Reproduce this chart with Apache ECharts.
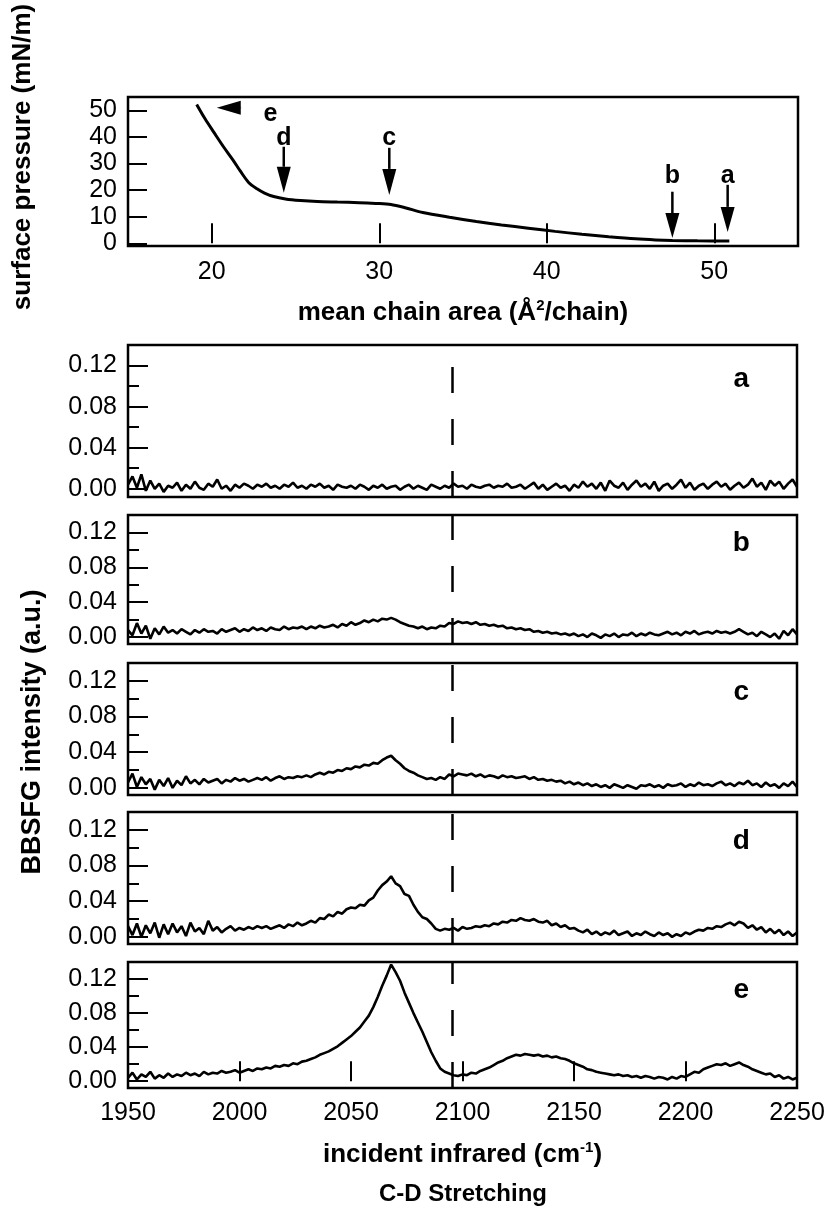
<!DOCTYPE html>
<html>
<head>
<meta charset="utf-8">
<script src="https://cdn.jsdelivr.net/npm/echarts@6.0.0/dist/echarts.min.js"></script>
<style>
  html, body { margin: 0; padding: 0; background: #fff; }
  #main { width: 829px; height: 1207px; }
</style>
</head>
<body>
<div id="main"></div>
<script>
// ---- isotherm (top panel) ----
var areaPts = [19.1, 19.6, 20.15, 20.7, 21.26, 21.7, 22.2, 22.7, 23.15, 23.7, 24.4, 25.3, 26.3, 27.5, 28.8,
  29.8, 30.7, 31.6, 32.6, 34.2, 35.8, 37.3, 38.9, 40.5, 42.1, 43.7, 45.3, 46.5, 47.5, 49.0, 50.9];
var pressurePts = [52.2, 46.8, 41.5, 36.3, 31.4, 27.2, 22.9, 20.5, 18.9, 17.6, 16.7, 16.1, 15.7, 15.5, 15.3,
  15.0, 14.6, 13.3, 11.6, 9.8, 8.2, 6.9, 5.7, 4.5, 3.4, 2.5, 1.7, 1.3, 1.1, 0.95, 0.9];
var areaTicks = [20, 30, 40, 50];
var pressureTicks = [0, 10, 20, 30, 40, 50];

// arrows: tail x, tail y, head x, head y, head length
var isoArrows = [
  [21.75, 51, 20.3, 51, 24],
  [24.3, 36.3, 24.3, 19.0, 26],
  [30.6, 35.9, 30.6, 18.2, 26],
  [47.5, 19.4, 47.5, 2.0, 25],
  [50.8, 22.0, 50.8, 4.3, 25]
];
var isoLetters = [[23.5, 48.4, 'e'], [24.3, 39.7, 'd'], [30.6, 39.7, 'c'], [47.5, 25.1, 'b'], [50.8, 25.1, 'a']];

// ---- BBSFG spectra, 1950..2250 cm-1 every 2 cm-1 ----
var waveStart = 1950, waveStep = 2;
var waveTicks = [2000, 2050, 2100, 2150, 2200];
var intensityTicks = [0, 0.04, 0.08, 0.12];
var intensityMinor = [0.02, 0.06, 0.10];
var dashedAt = 2095.5;

var specA = [
  0.004, 0.012, 0.001, 0.014, -0.002, 0.008, 0.000, 0.005, -0.003, 0.003,
  0.001, 0.006, -0.002, 0.004, 0.000, 0.007, 0.001, -0.001, 0.005, 0.002,
  0.009, 0.000, 0.003, -0.002, 0.004, 0.001, 0.005, 0.003, 0.000, 0.004,
  0.002, 0.005, 0.001, 0.003, 0.000, 0.004, 0.002, 0.006, 0.001, 0.003,
  0.000, 0.004, 0.002, 0.005, 0.001, 0.003, -0.001, 0.004, 0.002, 0.001,
  0.003, 0.000, 0.004, 0.002, -0.001, 0.003, 0.001, 0.004, 0.000, 0.002,
  0.003, -0.001, 0.002, 0.004, 0.000, 0.003, 0.001, -0.001, 0.004, 0.002,
  0.000, 0.003, 0.001, 0.005, 0.002, 0.003, 0.000, 0.004, 0.002, 0.001,
  0.003, 0.004, 0.001, 0.003, 0.002, 0.005, 0.001, 0.002, 0.004, 0.000,
  0.003, 0.006, 0.000, 0.004, -0.001, 0.002, 0.005, 0.001, 0.003, -0.002,
  0.004, 0.001, 0.007, 0.002, 0.005, 0.000, 0.006, -0.002, 0.008, 0.003,
  0.001, 0.006, -0.001, 0.004, 0.008, 0.002, 0.005, 0.000, 0.007, -0.002,
  0.003, 0.005, 0.000, 0.004, 0.009, 0.001, 0.006, -0.001, 0.003, 0.005,
  0.000, 0.004, 0.007, 0.002, 0.005, -0.001, 0.003, 0.006, 0.001, 0.004,
  0.010, 0.002, 0.006, -0.001, 0.008, 0.003, 0.007, 0.000, 0.005, 0.009, 0.002
];
var specB = [
  0.008, 0.002, 0.016, 0.004, 0.013, -0.002, 0.010, 0.003, 0.012, 0.005,
  0.008, 0.004, 0.009, 0.006, 0.003, 0.008, 0.005, 0.009, 0.006, 0.007,
  0.004, 0.009, 0.006, 0.008, 0.010, 0.006, 0.009, 0.007, 0.011, 0.008,
  0.010, 0.007, 0.011, 0.009, 0.008, 0.012, 0.009, 0.011, 0.010, 0.012,
  0.009, 0.012, 0.010, 0.013, 0.011, 0.012, 0.014, 0.011, 0.015, 0.013,
  0.017, 0.014, 0.016, 0.019, 0.017, 0.020, 0.018, 0.021, 0.020, 0.022,
  0.020, 0.017, 0.015, 0.013, 0.012, 0.010, 0.012, 0.009, 0.011, 0.010,
  0.013, 0.012, 0.016, 0.015, 0.018, 0.016, 0.017, 0.015, 0.017, 0.014,
  0.015, 0.013, 0.014, 0.012, 0.013, 0.010, 0.011, 0.009, 0.010, 0.008,
  0.009, 0.006, 0.007, 0.005, 0.006, 0.004, 0.005, 0.003, 0.004, 0.002,
  0.004, 0.001, 0.003, 0.000, 0.004, 0.002, -0.001, 0.003, 0.001, 0.004,
  0.000, 0.003, 0.002, 0.005, 0.001, 0.004, 0.002, 0.005, 0.003, 0.002,
  0.004, 0.006, 0.003, 0.005, 0.002, 0.006, 0.004, 0.007, 0.003, 0.005,
  0.006, 0.004, 0.007, 0.005, 0.006, 0.004, 0.006, 0.009, 0.006, 0.003,
  0.005, 0.001, 0.006, 0.003, 0.000, 0.004, -0.002, 0.007, 0.002, 0.009, 0.003
];
var specC = [
  0.006, 0.016, 0.001, 0.012, 0.004, 0.010, -0.002, 0.009, 0.002, 0.011,
  0.000, 0.008, 0.003, 0.013, 0.005, 0.009, 0.004, 0.010, 0.006, 0.008,
  0.010, 0.005, 0.009, 0.007, 0.011, 0.008, 0.010, 0.007, 0.009, 0.011,
  0.009, 0.012, 0.008, 0.011, 0.013, 0.010, 0.012, 0.011, 0.013, 0.012,
  0.014, 0.012, 0.015, 0.017, 0.015, 0.018, 0.017, 0.020, 0.019, 0.022,
  0.021, 0.024, 0.023, 0.026, 0.025, 0.028, 0.027, 0.031, 0.034, 0.036,
  0.031, 0.027, 0.022, 0.019, 0.017, 0.014, 0.012, 0.010, 0.011, 0.009,
  0.012, 0.010, 0.015, 0.013, 0.016, 0.015, 0.014, 0.016, 0.013, 0.015,
  0.012, 0.014, 0.013, 0.011, 0.014, 0.012, 0.013, 0.011, 0.012, 0.013,
  0.010, 0.012, 0.009, 0.010, 0.008, 0.009, 0.007, 0.008, 0.005, 0.007,
  0.004, 0.006, 0.003, 0.005, 0.002, 0.004, 0.001, 0.003, 0.000, 0.004,
  0.002, 0.000, 0.003, 0.001, -0.001, 0.003, 0.002, 0.004, 0.001, 0.003,
  0.000, 0.004, 0.002, 0.003, 0.005, 0.001, 0.004, 0.002, 0.006, 0.003,
  0.004, 0.002, 0.005, 0.007, 0.003, 0.005, 0.002, 0.006, 0.004, 0.008,
  0.003, 0.005, 0.001, 0.006, 0.002, 0.004, 0.000, 0.005, 0.002, 0.007, 0.001
];
var specD = [
  0.012, 0.002, 0.015, 0.000, 0.013, 0.004, 0.016, -0.001, 0.014, 0.003,
  0.015, 0.005, 0.012, 0.001, 0.016, 0.006, 0.010, 0.003, 0.018, 0.007,
  0.011, 0.005, 0.009, 0.012, 0.007, 0.010, 0.008, 0.011, 0.009, 0.012,
  0.010, 0.012, 0.009, 0.011, 0.013, 0.010, 0.014, 0.012, 0.016, 0.013,
  0.015, 0.018, 0.016, 0.021, 0.020, 0.025, 0.023, 0.028, 0.026, 0.031,
  0.033, 0.032, 0.036, 0.035, 0.041, 0.044, 0.052, 0.058, 0.062, 0.068,
  0.060, 0.057, 0.048, 0.046, 0.036, 0.028, 0.022, 0.020, 0.015, 0.009,
  0.007, 0.009, 0.008, 0.010, 0.007, 0.011, 0.009, 0.010, 0.012, 0.011,
  0.013, 0.012, 0.015, 0.014, 0.017, 0.016, 0.019, 0.018, 0.021, 0.019,
  0.018, 0.020, 0.017, 0.016, 0.018, 0.013, 0.015, 0.011, 0.013, 0.009,
  0.010, 0.007, 0.005, 0.008, 0.003, 0.006, 0.002, 0.005, 0.003, 0.007,
  0.002, 0.004, 0.006, 0.001, 0.004, 0.002, 0.006, 0.003, 0.001, 0.005,
  0.002, 0.004, 0.000, 0.003, 0.001, 0.005, 0.003, 0.006, 0.008, 0.007,
  0.010, 0.009, 0.012, 0.011, 0.014, 0.016, 0.013, 0.017, 0.015, 0.010,
  0.013, 0.008, 0.011, 0.005, 0.009, 0.004, 0.008, 0.002, 0.006, 0.001, 0.005
];
var specE = [
  0.004, 0.010, 0.002, 0.008, 0.005, 0.011, 0.003, 0.007, 0.004, 0.009,
  0.005, 0.008, 0.006, 0.010, 0.007, 0.009, 0.006, 0.011, 0.008, 0.010,
  0.009, 0.012, 0.010, 0.011, 0.013, 0.010, 0.012, 0.014, 0.012, 0.015,
  0.014, 0.016, 0.015, 0.018, 0.017, 0.019, 0.018, 0.021, 0.020, 0.023,
  0.024, 0.026, 0.028, 0.031, 0.033, 0.035, 0.038, 0.041, 0.045, 0.049,
  0.053, 0.058, 0.063, 0.070, 0.077, 0.087, 0.099, 0.112, 0.124, 0.137,
  0.128, 0.118, 0.104, 0.092, 0.080, 0.069, 0.058, 0.046, 0.034, 0.024,
  0.015, 0.011, 0.009, 0.007, 0.006, 0.008, 0.007, 0.010, 0.009, 0.012,
  0.014, 0.016, 0.019, 0.022, 0.024, 0.027, 0.029, 0.031, 0.030, 0.032,
  0.031, 0.030, 0.031, 0.029, 0.030, 0.028, 0.029, 0.027, 0.026, 0.024,
  0.021, 0.019, 0.017, 0.014, 0.013, 0.011, 0.010, 0.009, 0.008, 0.007,
  0.008, 0.006, 0.007, 0.005, 0.006, 0.004, 0.006, 0.005, 0.003, 0.005,
  0.004, 0.002, 0.005, 0.003, 0.006, 0.005, 0.008, 0.011, 0.010, 0.014,
  0.016, 0.018, 0.020, 0.019, 0.021, 0.018, 0.020, 0.022, 0.019, 0.017,
  0.014, 0.012, 0.010, 0.008, 0.009, 0.005, 0.007, 0.003, 0.005, 0.002, 0.004
];
var spectra = [specA, specB, specC, specD, specE];
var panelLetters = ['a', 'b', 'c', 'd', 'e'];
var letterPos = [2225, 0.107];

var FONT = '"Liberation Sans", Arial, Helvetica, sans-serif';
var TICK_FONT = 25;
var panelTops = [345, 515, 663, 812, 962];
var panelHeights = [152, 129, 132, 132, 126];

var chart = echarts.init(document.getElementById('main'));

// text placed at a data point, through the axes of that grid
function letterSeries(xi, yi, rows, size) {
  return {
    type: 'custom', xAxisIndex: xi, yAxisIndex: yi, silent: true,
    data: rows,
    renderItem: function (params, api) {
      var p = api.coord([api.value(0), api.value(1)]);
      return {
        type: 'text', x: p[0], y: p[1],
        style: {
          text: rows[params.dataIndex][2], font: 'bold ' + size + 'px ' + FONT,
          fill: '#000', align: 'center', verticalAlign: 'middle'
        }
      };
    }
  };
}

var supRich = {
  t: { fontSize: 26, fontWeight: 'bold', fontFamily: FONT, color: '#000' },
  s: { fontSize: 15, fontWeight: 'bold', fontFamily: FONT, color: '#000', padding: [0, 0, 14, 0] }
};

var grids = [{ left: 128, right: 31, top: 97, height: 149, show: true, borderColor: '#000', borderWidth: 2.5 }];
var xAxes = [{
  gridIndex: 0, type: 'value', min: 15, max: 55,
  axisLine: { show: false },
  splitLine: { show: false },
  axisTick: { inside: true, length: 20, customValues: areaTicks, lineStyle: { color: '#000', width: 2 } },
  axisLabel: { customValues: areaTicks, fontSize: TICK_FONT, fontFamily: FONT, color: '#000', margin: 14 },
  name: '{t|mean chain area (Å}{s|2}{t|/chain)}',
  nameLocation: 'middle', nameGap: 52,
  nameTextStyle: { rich: supRich }
}];
var yAxes = [{
  gridIndex: 0, type: 'value', min: -1, max: 55,
  axisLine: { show: false },
  splitLine: { show: false },
  axisTick: { inside: true, length: 19, customValues: pressureTicks, lineStyle: { color: '#000', width: 2 } },
  axisLabel: { customValues: pressureTicks, fontSize: TICK_FONT, fontFamily: FONT, color: '#000', margin: 11 }
}];
var series = [
  {
    type: 'line', xAxisIndex: 0, yAxisIndex: 0, smooth: 0.3, showSymbol: false, silent: true,
    data: areaPts.map(function (a, i) { return [a, pressurePts[i]]; }),
    lineStyle: { color: '#000', width: 3 }
  },
  {
    type: 'custom', xAxisIndex: 0, yAxisIndex: 0, silent: true,
    data: isoArrows,
    renderItem: function (params, api) {
      var p0 = api.coord([api.value(0), api.value(1)]);
      var p1 = api.coord([api.value(2), api.value(3)]);
      var headLen = api.value(4), headW = 7;
      var dx = p1[0] - p0[0], dy = p1[1] - p0[1];
      var len = Math.sqrt(dx * dx + dy * dy);
      var ux = dx / len, uy = dy / len;
      var bx = p1[0] - ux * headLen, by = p1[1] - uy * headLen;
      return {
        type: 'group',
        children: [
          { type: 'line', shape: { x1: p0[0], y1: p0[1], x2: bx, y2: by }, style: { stroke: '#000', lineWidth: 2.5 } },
          { type: 'polygon', shape: { points: [[p1[0], p1[1]], [bx - uy * headW, by + ux * headW], [bx + uy * headW, by - ux * headW]] }, style: { fill: '#000' } }
        ]
      };
    }
  },
  letterSeries(0, 0, isoLetters, 25)
];

spectra.forEach(function (spec, k) {
  var g = k + 1;
  var last = k === spectra.length - 1;
  grids.push({ left: 128, right: 32, top: panelTops[k], height: panelHeights[k], show: true, borderColor: '#000', borderWidth: 2.5 });
  var xa = {
    gridIndex: g, type: 'value', min: 1950, max: 2250, interval: 50,
    axisLine: { show: false },
    splitLine: { show: false },
    axisTick: { show: last, inside: true, length: 20, customValues: waveTicks, lineStyle: { color: '#000', width: 2 } },
    axisLabel: {
      show: last, fontSize: TICK_FONT, fontFamily: FONT, color: '#000', margin: 13,
      formatter: function (v) { return String(v); }
    }
  };
  if (last) {
    xa.name = '{t|incident infrared (cm}{s|-1}{t|)}';
    xa.nameLocation = 'middle';
    xa.nameGap = 52;
    xa.nameTextStyle = { rich: supRich };
  }
  xAxes.push(xa);
});
// major intensity axes
spectra.forEach(function (spec, k) {
  yAxes.push({
    gridIndex: k + 1, type: 'value', min: -0.008, max: 0.14, position: 'left',
    axisLine: { show: false },
    splitLine: { show: false },
    axisTick: { inside: true, length: 20, customValues: intensityTicks, lineStyle: { color: '#000', width: 2 } },
    axisLabel: {
      customValues: intensityTicks, fontSize: TICK_FONT, fontFamily: FONT, color: '#000', margin: 11,
      formatter: function (v) { return v.toFixed(2); }
    }
  });
});
// minor intensity ticks
spectra.forEach(function (spec, k) {
  yAxes.push({
    gridIndex: k + 1, type: 'value', min: -0.008, max: 0.14, position: 'left',
    axisLine: { show: false },
    splitLine: { show: false },
    axisTick: { inside: true, length: 11, customValues: intensityMinor, lineStyle: { color: '#000', width: 2 } },
    axisLabel: { show: false }
  });
});
spectra.forEach(function (spec, k) {
  series.push({
    type: 'line', xAxisIndex: k + 1, yAxisIndex: k + 1, showSymbol: false, silent: true,
    data: spec.map(function (v, i) { return [waveStart + i * waveStep, v]; }),
    lineStyle: { color: '#000', width: 2.6 },
    markLine: {
      silent: true, symbol: 'none', label: { show: false },
      lineStyle: { color: '#000', width: 2.5, type: [26, 26] },
      data: [{ xAxis: dashedAt }]
    }
  });
  series.push(letterSeries(k + 1, k + 1, [[letterPos[0], letterPos[1], panelLetters[k]]], 28));
});

chart.setOption({
  animation: false,
  backgroundColor: '#fff',
  grid: grids,
  xAxis: xAxes,
  yAxis: yAxes,
  series: series,
  graphic: [
    {
      type: 'text', x: 23, y: 157, rotation: Math.PI / 2,
      style: { text: 'surface pressure (mN/m)', font: 'bold 26px ' + FONT, fill: '#000', align: 'center', verticalAlign: 'middle' }
    },
    {
      type: 'text', x: 33, y: 732, rotation: Math.PI / 2,
      style: { text: 'BBSFG intensity (a.u.)', font: 'bold 27px ' + FONT, fill: '#000', align: 'center', verticalAlign: 'middle' }
    },
    {
      type: 'text', x: 463, y: 1194,
      style: { text: 'C-D Stretching', font: 'bold 24px ' + FONT, fill: '#000', align: 'center', verticalAlign: 'middle' }
    }
  ]
});
</script>
</body>
</html>
